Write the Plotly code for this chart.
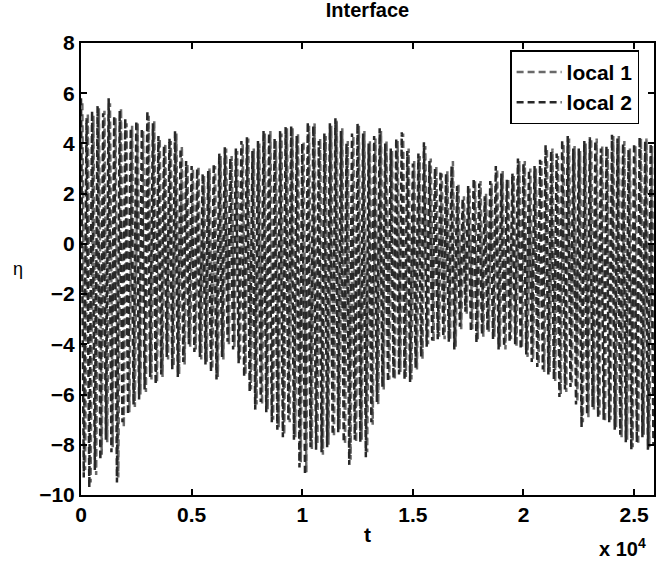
import numpy as np
import plotly.graph_objects as go

# time between successive oscillation peaks, and half of it for troughs
period = 250.0

# local 2 (dark): peak and trough values read per oscillation
local2_peaks = [5.8, 5.0, 5.3, 5.5, 5.2, 5.8, 5.1, 5.3, 5.0, 4.6, 4.9, 4.6, 5.3, 4.8, 4.3, 3.9,
                4.2, 4.5, 3.8, 3.3, 3.1, 3.0, 2.8, 2.9, 3.2, 3.6, 3.85, 3.4, 3.8, 4.1, 4.25, 3.7,
                4.1, 4.5, 4.4, 4.2, 4.5, 4.65, 4.7, 4.3, 4.0, 4.85, 4.7, 4.1, 4.4, 4.8, 5.0, 4.5,
                4.0, 4.4, 4.8, 4.4, 4.0, 4.3, 4.6, 4.0, 3.8, 4.2, 4.45, 3.7, 3.2, 3.6, 4.05, 3.3,
                3.0, 2.9, 2.8, 3.1, 2.3, 1.8, 2.3, 2.6, 2.4, 1.9, 2.5, 3.1, 2.8, 2.55, 2.8, 3.4,
                3.2, 2.95, 3.1, 3.35, 3.95, 3.7, 3.6, 4.15, 4.3, 3.8, 3.8, 4.1, 4.25, 4.1, 3.8, 3.9,
                4.35, 4.2, 4.0, 3.75, 4.0, 4.25, 4.1, 4.0]
local2_troughs = [-9.3, -9.7, -9.0, -8.6, -7.8, -8.3, -9.5, -7.1, -6.8, -6.4, -6.2, -5.8, -5.3, -5.6, -5.2, -4.5,
                  -5.0, -5.3, -4.7, -4.0, -4.3, -4.5, -4.8, -5.1, -5.4, -4.5, -3.9, -4.2, -4.75, -5.3, -5.9, -6.6,
                  -6.3, -6.7, -7.1, -7.4, -7.7, -7.0, -7.8, -8.9, -9.2, -8.1, -8.2, -8.3, -8.1, -7.6, -7.5, -7.9,
                  -8.8, -7.8, -7.9, -8.5, -7.1, -6.3, -5.7, -5.5, -5.35, -5.2, -5.4, -5.5, -4.95, -4.5, -4.1, -3.85,
                  -3.8, -3.7, -3.9, -4.2, -3.3, -2.7, -3.5, -3.95, -3.6, -3.45, -3.8, -4.2, -4.1, -3.9, -4.0, -4.2,
                  -4.4, -4.7, -4.9, -5.0, -5.2, -5.4, -6.1, -5.8, -5.7, -6.4, -7.3, -6.8, -6.5, -6.9, -7.0, -7.1,
                  -7.4, -7.6, -7.9, -8.2, -7.9, -7.7, -8.2, -8.0]

# local 1 (grey)
local1_peaks = [5.6, 5.2, 5.1, 5.4, 5.3, 5.6, 5.0, 5.4, 4.8, 4.7, 4.8, 4.5, 5.1, 4.9, 4.2, 4.0,
                4.1, 4.4, 3.9, 3.2, 3.0, 3.1, 2.7, 3.0, 3.1, 3.5, 3.8, 3.5, 3.7, 4.0, 4.2, 3.8,
                4.0, 4.4, 4.5, 4.1, 4.4, 4.6, 4.6, 4.4, 4.1, 4.7, 4.8, 4.2, 4.3, 4.7, 4.9, 4.6,
                4.1, 4.3, 4.7, 4.5, 4.1, 4.2, 4.5, 4.1, 3.7, 4.1, 4.4, 3.8, 3.3, 3.5, 3.9, 3.4,
                3.1, 2.8, 2.9, 3.3, 2.4, 1.9, 2.2, 2.5, 2.5, 2.0, 2.4, 3.0, 2.9, 2.6, 2.7, 3.3,
                3.3, 3.0, 3.0, 3.3, 3.8, 3.8, 3.5, 4.0, 4.2, 3.9, 3.7, 4.0, 4.2, 4.2, 3.9, 3.8,
                4.3, 4.3, 4.1, 3.8, 3.9, 4.2, 4.2, 3.9]
local1_troughs = [-9.0, -9.5, -9.2, -8.4, -7.9, -8.1, -9.3, -7.3, -6.7, -6.5, -6.0, -5.9, -5.4, -5.5, -5.3, -4.6,
                  -4.9, -5.2, -4.8, -4.1, -4.2, -4.6, -4.7, -5.0, -5.3, -4.6, -4.0, -4.1, -4.6, -5.2, -5.8, -6.4,
                  -6.4, -6.6, -7.0, -7.3, -7.6, -7.1, -7.7, -8.7, -9.1, -8.2, -8.0, -8.4, -8.0, -7.7, -7.4, -8.0,
                  -8.6, -7.9, -7.8, -8.3, -7.2, -6.4, -5.8, -5.4, -5.4, -5.1, -5.3, -5.4, -5.0, -4.6, -4.0, -3.9,
                  -3.7, -3.8, -3.8, -4.1, -3.4, -2.8, -3.4, -3.8, -3.7, -3.5, -3.7, -4.1, -4.2, -3.8, -4.1, -4.1,
                  -4.5, -4.6, -4.8, -5.1, -5.1, -5.5, -6.0, -5.9, -5.6, -6.3, -7.1, -6.9, -6.6, -6.8, -7.1, -7.0,
                  -7.3, -7.7, -7.8, -8.1, -8.0, -7.6, -8.1, -7.9]

x_tick_vals = [0, 5000, 10000, 15000, 20000, 25000]
x_tick_text = ["0", "0.5", "1", "1.5", "2", "2.5"]
y_tick_vals = [-10, -8, -6, -4, -2, 0, 2, 4, 6, 8]


def zigzag(peaks, troughs, t0):
    n = min(len(peaks), len(troughs))
    k = np.arange(n)
    t = np.empty(2 * n)
    v = np.empty(2 * n)
    t[0::2] = t0 + k * period
    t[1::2] = t0 + k * period + period / 2
    v[0::2] = peaks[:n]
    v[1::2] = troughs[:n]
    return t, v


t1, v1 = zigzag(local1_peaks, local1_troughs, 60.0)
t2, v2 = zigzag(local2_peaks, local2_troughs, 0.0)

FONT = "Liberation Sans, Arial, Helvetica, sans-serif"

fig = go.Figure()
fig.add_trace(go.Scatter(x=t1, y=v1, mode="lines", name="<b>local 1</b>",
                         line=dict(color="rgb(105,105,105)", width=2.5, dash="7px,4px")))
fig.add_trace(go.Scatter(x=t2, y=v2, mode="lines", name="<b>local 2</b>",
                         line=dict(color="rgb(40,40,40)", width=2.5, dash="7px,4px")))

axis_common = dict(showgrid=False, zeroline=False, showline=True, linecolor="black",
                   linewidth=2, mirror="ticks", ticks="inside", ticklen=6, tickwidth=1.5,
                   tickcolor="black", automargin=False,
                   tickfont=dict(family=FONT, size=21, color="black", weight="bold"))

fig.update_xaxes(range=[0, 25900], tickvals=x_tick_vals, ticktext=x_tick_text, **axis_common)
fig.update_yaxes(range=[-10, 8], tickvals=y_tick_vals, **axis_common)

fig.update_layout(
    width=658, height=565,
    margin=dict(l=81, r=4, t=43, b=70, autoexpand=False),
    paper_bgcolor="white", plot_bgcolor="white",
    title=dict(text="<b>Interface</b>", x=0.5, xref="paper", xanchor="center",
               y=1 - 3 / 565, yref="container", yanchor="top",
               font=dict(family=FONT, size=20, color="black")),
    showlegend=True,
    legend=dict(x=0.974, y=0.984, xanchor="right", yanchor="top",
                bgcolor="white", bordercolor="black", borderwidth=1.5,
                itemwidth=45,
                font=dict(family=FONT, size=21, color="black"),
                tracegroupgap=0),
    annotations=[
        dict(text="η", xref="paper", yref="paper", x=-0.11, y=0.5,
             xanchor="center", yanchor="middle", showarrow=False,
             font=dict(family=FONT, size=18, color="black")),
        dict(text="<b>t</b>", xref="paper", yref="paper", x=0.5, y=-0.088,
             xanchor="center", yanchor="middle", showarrow=False,
             font=dict(family=FONT, size=21, color="black")),
        dict(text="<b>x 10<sup>4</sup></b>", xref="paper", yref="paper", x=0.945, y=-0.148,
             xanchor="center", yanchor="bottom", showarrow=False,
             font=dict(family=FONT, size=20, color="black")),
    ],
)

fig.write_html("out.html", config={"displayModeBar": False},
               post_script="document.body.style.margin='0';document.body.style.padding='0';")
